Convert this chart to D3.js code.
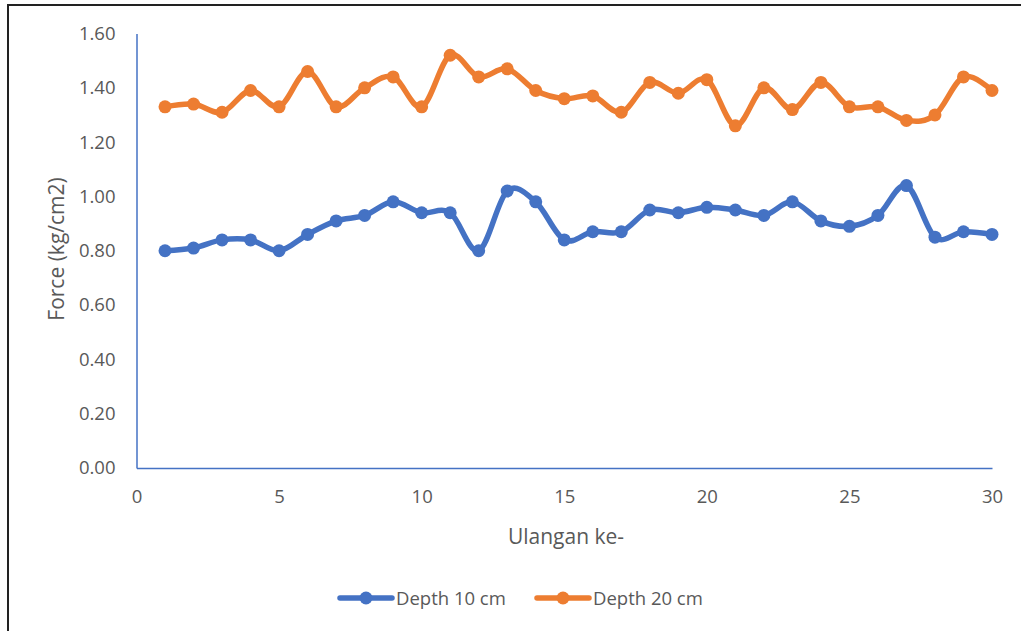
<!DOCTYPE html>
<html><head><meta charset="utf-8">
<script src="https://cdn.jsdelivr.net/npm/d3@7"></script>
<style>
html,body{margin:0;padding:0;background:#fff;}
svg{display:block;}
</style></head>
<body>
<script>
const replications = d3.range(1, 31);
const depth10 = [0.80,0.81,0.84,0.84,0.80,0.86,0.91,0.93,0.98,0.94,0.94,0.80,1.02,0.98,0.84,0.87,0.87,0.95,0.94,0.96,0.95,0.93,0.98,0.91,0.89,0.93,1.04,0.85,0.87,0.86];
const depth20 = [1.33,1.34,1.31,1.39,1.33,1.46,1.33,1.40,1.44,1.33,1.52,1.44,1.47,1.39,1.36,1.37,1.31,1.42,1.38,1.43,1.26,1.40,1.32,1.42,1.33,1.33,1.28,1.30,1.44,1.39];
const yTicks = [0,0.2,0.4,0.6,0.8,1.0,1.2,1.4,1.6];
const xTicks = [0,5,10,15,20,25,30];
const seriesNames = ["Depth 10 cm","Depth 20 cm"];
const seriesColors = ["#4472C4","#ED7D31"];

const W = 1021, H = 631;
const svg = d3.select("body").append("svg").attr("width", W).attr("height", H);
const font = "'Open Sans','Liberation Sans',sans-serif";
const textColor = "#595959";

// frame
svg.append("path").attr("d", `M8,${H+5} L8,5 L${W+5},5`).attr("fill","none").attr("stroke","#222").attr("stroke-width",2);

const x = d3.scaleLinear().domain([0,30]).range([136.5, 992]);
const y = d3.scaleLinear().domain([0,1.6]).range([468, 33.5]);

// axes
const xAxis = svg.append("g").attr("transform", `translate(0,${y(0)})`)
  .call(d3.axisBottom(x).tickValues(xTicks).tickSize(0).tickPadding(22).tickFormat(d3.format("d")));
const yAxis = svg.append("g").attr("transform", `translate(${x(0)},0)`)
  .call(d3.axisLeft(y).tickValues(yTicks).tickSize(0).tickPadding(21).tickFormat(d3.format(".2f")));
[xAxis, yAxis].forEach(g => {
  g.select(".domain").attr("stroke", "#4472C4").attr("stroke-width", 1.5);
  g.selectAll("text").attr("fill", textColor).style("font-family", font).style("font-size", "18.5px");
});

// titles
svg.append("text").attr("x", 566).attr("y", 544).attr("text-anchor","middle")
  .attr("fill", textColor).style("font-family", font).style("font-size","21px").text("Ulangan ke-");
svg.append("text").attr("transform","translate(64,249) rotate(-90)").attr("text-anchor","middle")
  .attr("fill", textColor).style("font-family", font).style("font-size","21px").text("Force (kg/cm2)");

// series
const allSeries = [depth10, depth20];
const line = d3.line().x((d,i)=>x(replications[i])).y(d=>y(d)).curve(d3.curveCardinal.tension(0));
allSeries.forEach((vals, si) => {
  svg.append("path").datum(vals).attr("d", line).attr("fill","none")
    .attr("stroke", seriesColors[si]).attr("stroke-width", 5.5).attr("stroke-linejoin","round");
  svg.append("g").selectAll("circle").data(vals).join("circle")
    .attr("cx",(d,i)=>x(replications[i])).attr("cy",d=>y(d)).attr("r",6.5)
    .attr("fill", seriesColors[si]);
});

// legend
const legendX = [340, 537];
seriesNames.forEach((name, i) => {
  const g = svg.append("g").attr("transform", `translate(${legendX[i]},598)`);
  g.append("line").attr("x1",0).attr("x2",52).attr("y1",0).attr("y2",0)
    .attr("stroke", seriesColors[i]).attr("stroke-width",5.5).attr("stroke-linecap","round");
  g.append("circle").attr("cx",26).attr("cy",0).attr("r",6.5).attr("fill",seriesColors[i]);
  g.append("text").attr("x",56).attr("y",7).attr("fill",textColor)
    .style("font-family", font).style("font-size","18.5px").text(name);
});
</script>
</body></html>
